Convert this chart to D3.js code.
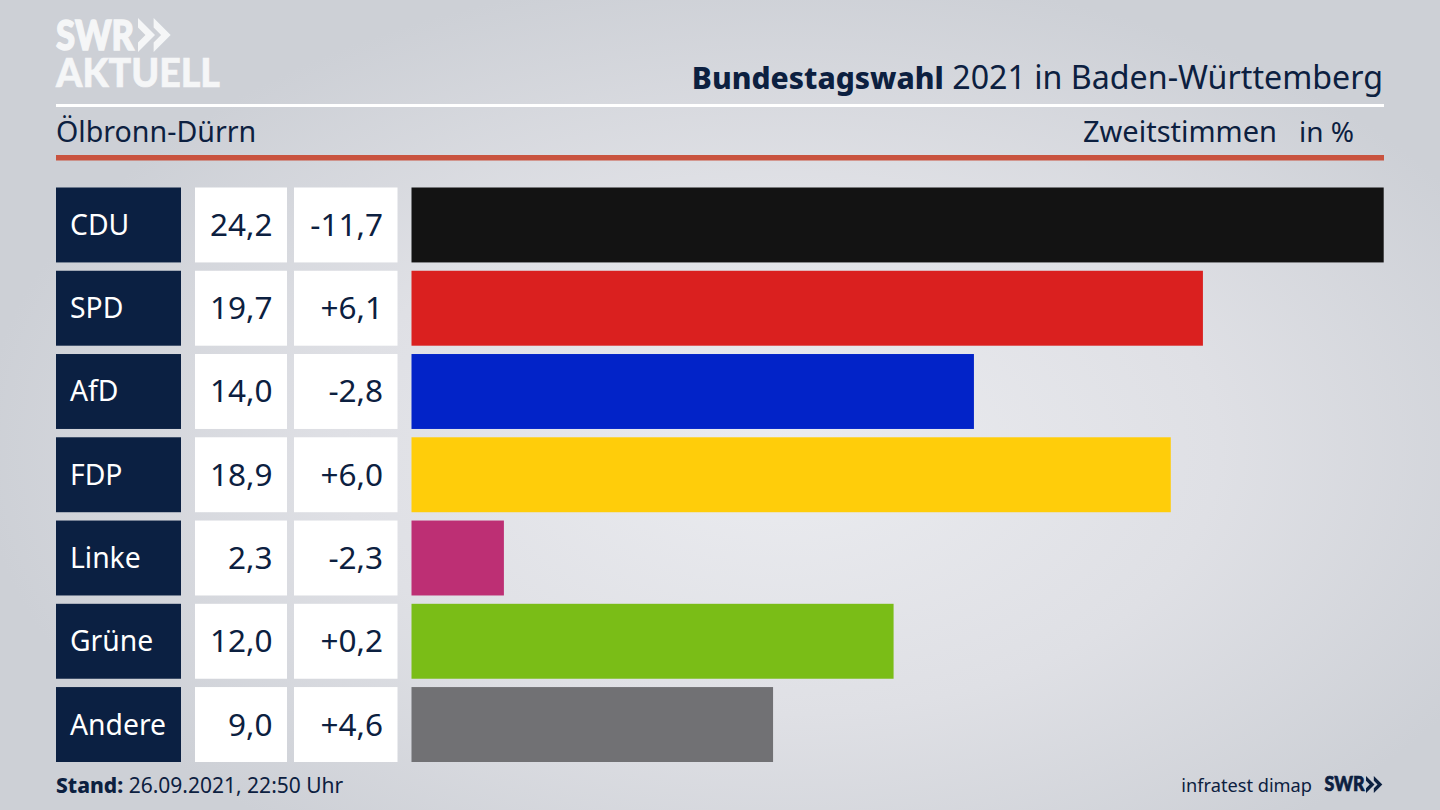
<!DOCTYPE html>
<html lang="de">
<head>
<meta charset="utf-8">
<title>Bundestagswahl 2021 in Baden-Württemberg</title>
<script src="https://cdn.jsdelivr.net/npm/d3@7/dist/d3.min.js"></script>
<style>
  html, body { margin: 0; padding: 0; background: #d4d6dc; }
  svg { display: block; }
  text { font-family: "Noto Sans", sans-serif; fill: #0c2040; }
</style>
</head>
<body>
<script>
// Data
var parties = ["CDU", "SPD", "AfD", "FDP", "Linke", "Grüne", "Andere"];
var shares = [24.2, 19.7, 14.0, 18.9, 2.3, 12.0, 9.0];
var changes = [-11.7, 6.1, -2.8, 6.0, -2.3, 0.2, 4.6];
var barColors = ["#131313", "#da201f", "#0223c8", "#ffcd0a", "#bd2f74", "#7abd17", "#717174"];

var w = 1440, h = 810;
var navy = "#0c2040";
var logoWhite = "#f5f6f7";

var svg = d3.select("body").append("svg")
  .attr("width", w)
  .attr("height", h);

// Background
var defs = svg.append("defs");
var grad = defs.append("radialGradient")
  .attr("id", "bg")
  .attr("gradientUnits", "userSpaceOnUse")
  .attr("cx", 780).attr("cy", 450).attr("r", 800)
  .attr("gradientTransform", "translate(780,450) scale(1,0.6) translate(-780,-450)");
grad.append("stop").attr("offset", "0").attr("stop-color", "#ebecf0");
grad.append("stop").attr("offset", "0.55").attr("stop-color", "#dfe0e5");
grad.append("stop").attr("offset", "1").attr("stop-color", "#cdd0d6");
svg.append("rect").attr("width", w).attr("height", h).attr("fill", "url(#bg)");

// Scales
var x = d3.scaleLinear().domain([0, 24.2]).range([411.5, 1383.7]);
var y = d3.scaleBand().domain(parties).range([187.5, 762]).paddingInner(0.1).paddingOuter(0);

// Formats
function comma(v) { return d3.format(".1f")(Math.abs(v)).replace(".", ","); }
function signed(v) { return (v < 0 ? "-" : "+") + comma(v); }

// Rows
var rows = svg.append("g").selectAll("g")
  .data(parties)
  .enter().append("g")
  .attr("transform", function(d) { return "translate(0," + y(d) + ")"; });

var bh = y.bandwidth();

rows.append("rect")
  .attr("x", 56).attr("width", 125).attr("height", bh).attr("fill", "#0b2042");
rows.append("rect")
  .attr("x", 195).attr("width", 92).attr("height", bh).attr("fill", "#fff");
rows.append("rect")
  .attr("x", 294).attr("width", 103.5).attr("height", bh).attr("fill", "#fff");

rows.append("rect")
  .attr("x", x(0))
  .attr("height", bh)
  .attr("width", function(d, i) { return x(shares[i]) - x(0); })
  .attr("fill", function(d, i) { return barColors[i]; });

rows.append("text")
  .attr("x", 70).attr("y", bh / 2 + 10)
  .attr("font-size", 28.3)
  .style("fill", "#fff")
  .text(function(d) { return d; });

rows.append("text")
  .attr("x", 272.5).attr("y", bh / 2 + 11)
  .attr("font-size", 31.5)
  .attr("text-anchor", "end")
  .text(function(d, i) { return comma(shares[i]); });

rows.append("text")
  .attr("x", 383).attr("y", bh / 2 + 11)
  .attr("font-size", 31.5)
  .attr("text-anchor", "end")
  .text(function(d, i) { return signed(changes[i]); });

// Header rules
svg.append("rect").attr("x", 56).attr("y", 104).attr("width", 1328).attr("height", 3).attr("fill", "#fff");
svg.append("rect").attr("x", 56).attr("y", 155).attr("width", 1328).attr("height", 5.5).attr("fill", "#c9533f");

// Header text
var title = svg.append("text")
  .attr("x", 1383).attr("y", 89)
  .attr("text-anchor", "end");
title.append("tspan").attr("font-weight", 800).attr("font-size", 30).text("Bundestagswahl");
title.append("tspan").attr("font-size", 32.2).text(" 2021 in Baden-Württemberg");

svg.append("text").attr("x", 56).attr("y", 142).attr("font-size", 28.6).text("Ölbronn-Dürrn");
svg.append("text").attr("x", 1277).attr("y", 142).attr("font-size", 29).attr("text-anchor", "end").text("Zweitstimmen");
svg.append("text").attr("x", 1354).attr("y", 142).attr("font-size", 28).attr("text-anchor", "end").text("in %");

// Footer
var stand = svg.append("text").attr("x", 56).attr("y", 793).attr("font-size", 21);
stand.append("tspan").attr("font-weight", 800).text("Stand:");
stand.append("tspan").text(" 26.09.2021, 22:50 Uhr");

svg.append("text")
  .attr("x", 1312).attr("y", 792)
  .attr("font-size", 18.2)
  .attr("text-anchor", "end")
  .text("infratest dimap");

// SWR logos: wordmark plus double chevron
function chevrons(g, s, color) {
  [0, 0.46].forEach(function(o) {
    var l = o * s;
    g.append("path")
      .attr("d", d3.line()([[l, 0], [l + 0.5 * s, 0.5 * s], [l, s], [l, 0.72 * s], [l + 0.22 * s, 0.5 * s], [l, 0.28 * s]]) + "Z")
      .attr("fill", color);
  });
}

function wordmark(px, py, size, len, label, color, stroke) {
  svg.append("text")
    .attr("x", px).attr("y", py)
    .attr("font-size", size).attr("font-weight", 900)
    .attr("textLength", len).attr("lengthAdjust", "spacingAndGlyphs")
    .style("font-family", "Lato, sans-serif")
    .style("fill", color)
    .style("stroke", color)
    .style("stroke-width", stroke)
    .text(label);
}

wordmark(56, 50, 41, 78, "SWR", logoWhite, 1.4);
chevrons(svg.append("g").attr("transform", "translate(138,18)"), 34, logoWhite);
wordmark(56, 87, 40, 164, "AKTUELL", logoWhite, 0.6);

wordmark(1324.5, 791, 21, 40, "SWR", navy, 0.7);
chevrons(svg.append("g").attr("transform", "translate(1366,776)"), 17, navy);
</script>
</body>
</html>
